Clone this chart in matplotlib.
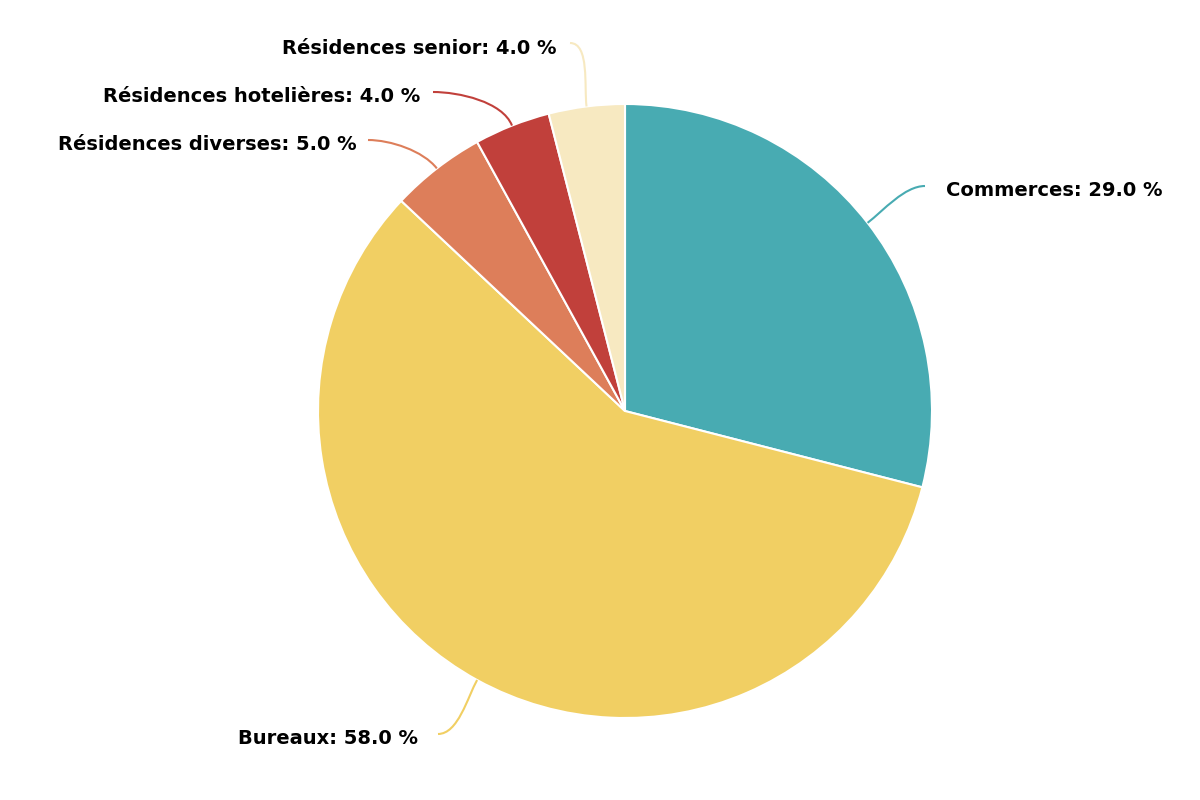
import numpy as np
import matplotlib
matplotlib.use('Agg')
import matplotlib.pyplot as plt
from matplotlib.path import Path
from matplotlib.patches import PathPatch

# données
labels = ['Commerces', 'Bureaux', 'Résidences diverses', 'Résidences hotelières', 'Résidences senior']
values = [29.0, 58.0, 5.0, 4.0, 4.0]
colors = ['#48abb2', '#f1cf63', '#dd7e5a', '#c1403b', '#f7e9c1']

# positions des étiquettes (pixels, y vers le bas) et alignement
label_pos = [(946, 190), (418, 739), (357, 144), (420, 96), (556, 48)]
label_ha = ['left', 'right', 'right', 'right', 'right']
conn_end = [(925, 186), (438, 734), (368, 140), (433, 92), (570, 43)]

H = 800
cx, cy, r = 625, H - 411, 307

fig = plt.figure(figsize=(12, 8), dpi=100)
ax = fig.add_axes([0, 0, 1, 1])
wedges, _ = ax.pie(values, colors=colors, startangle=90, counterclock=False,
                   center=(cx, cy), radius=r,
                   wedgeprops=dict(edgecolor='white', linewidth=1.5))
ax.set_xlim(0, 1200)
ax.set_ylim(0, H)
ax.axis('off')

for w, lab, v, col, (lx, ly), ha, (ex, ey) in zip(wedges, labels, values, colors,
                                                   label_pos, label_ha, conn_end):
    mid = np.deg2rad((w.theta1 + w.theta2) / 2)
    dx, dy = np.cos(mid), np.sin(mid)
    ax0, ay0 = cx + r * dx, cy + r * dy
    ey = H - ey
    sgn = 1 if ha == 'left' else -1
    dist = np.hypot(ex - ax0, ey - ay0)
    p1 = (ax0 + dx * dist * 0.3, ay0 + dy * dist * 0.3)
    p2 = (ex - sgn * dist * 0.3, ey)
    path = Path([(ax0, ay0), p1, p2, (ex, ey)],
                [Path.MOVETO, Path.CURVE4, Path.CURVE4, Path.CURVE4])
    ax.add_patch(PathPatch(path, facecolor='none', edgecolor=col, linewidth=1.5))
    ax.text(lx, H - ly, f'{lab}: {v:.1f} %', ha=ha, va='center',
            fontsize=14, fontweight='bold', family='DejaVu Sans', color='black')

fig.savefig('out.png', dpi=100, facecolor='white')
